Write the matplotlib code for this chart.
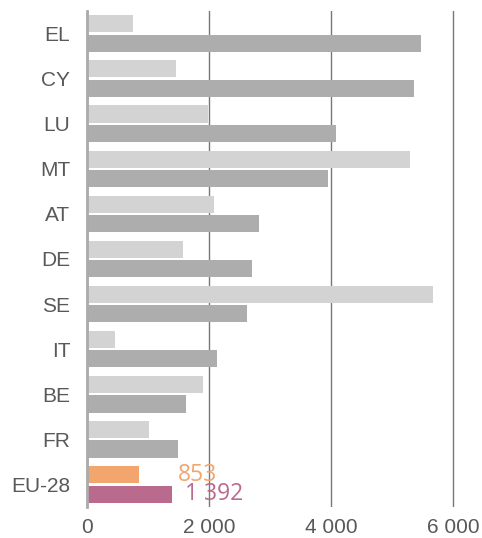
import numpy as np
import matplotlib.pyplot as plt

countries = ["EL", "CY", "LU", "MT", "AT", "DE", "SE", "IT", "BE", "FR", "EU-28"]
series_a = [754, 1459, 1983, 5294, 2082, 1573, 5671, 459, 1901, 1016, 853]
series_b = [5474, 5360, 4081, 3950, 2819, 2704, 2622, 2131, 1623, 1492, 1392]
xticks = [0, 2000, 4000, 6000]
xtick_labels = ["0", "2 000", "4 000", "6 000"]

color_a = ["#d3d3d3"] * 10 + ["#f2a66e"]
color_b = ["#adadad"] * 10 + ["#ba6a8c"]

plt.rcParams["font.family"] = ["Liberation Sans", "DejaVu Sans"]

fig = plt.figure(figsize=(4.82, 5.38), dpi=100)
ax = fig.add_axes([0.1805, 0.0576, 0.772, 0.922])

y = np.arange(len(countries))
h = 0.38
ax.barh(y - 0.215, series_a, height=h, color=color_a, zorder=2)
ax.barh(y + 0.215, series_b, height=h, color=color_b, zorder=2)

ax.set_ylim(len(countries) - 0.5, -0.5)
ax.set_xlim(0, 6100)
ax.set_yticks(y)
ax.set_yticklabels(countries, fontsize=15, color="#595959")
ax.set_xticks(xticks)
ax.set_xticklabels(xtick_labels, fontsize=15, color="#595959")
ax.tick_params(axis="y", length=0, pad=12)
ax.tick_params(axis="x", length=0, pad=8)

ax.grid(axis="x", color="#777777", linewidth=1, zorder=1)
for s in ["top", "right", "bottom"]:
    ax.spines[s].set_visible(False)
ax.spines["left"].set_color("#aaaaaa")
ax.spines["left"].set_linewidth(2)
ax.spines["left"].set_zorder(3)

# EU-28 value labels
last = len(countries) - 1
ax.text(1490, last - 0.215, f"{series_a[-1]}", color=color_a[-1],
        fontsize=16.5, va="center", ha="left", family="Open Sans")
ax.text(1600, last + 0.215, "1 392", color=color_b[-1],
        fontsize=16.5, va="center", ha="left", family="Open Sans")

fig.savefig("out.png", dpi=100)
